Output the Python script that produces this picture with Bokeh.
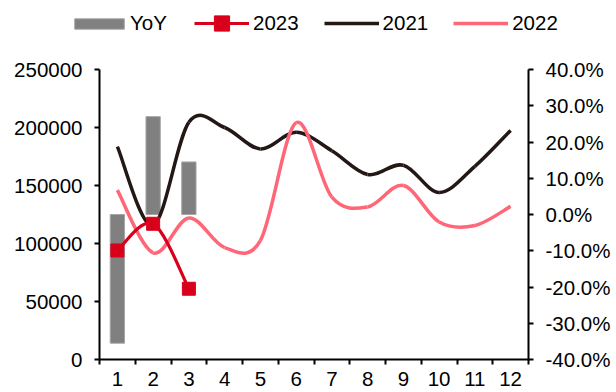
from bokeh.plotting import figure
from bokeh.models import (Range1d, LinearAxis, FixedTicker, NumeralTickFormatter,
                          Legend, LegendItem, ColumnDataSource)
from bokeh.layouts import column, row
from bokeh.embed import file_html
from bokeh.resources import INLINE

# ---- data ----
months = [1, 2, 3, 4, 5, 6, 7, 8, 9, 10, 11, 12]
month_labels = ["1", "2", "3", "4", "5", "6", "7", "8", "9", "10", "11", "12"]
yoy_months = [1, 2, 3]
yoy = [-0.355, 0.27, 0.145]
v2023 = [94000, 117000, 61000]
v2021 = [183500, 115500, 204500, 200000, 181500, 196000, 180000, 159500, 167500, 144000, 166500, 197500]
v2022 = [146000, 92000, 122000, 96500, 102500, 204000, 140000, 131500, 150000, 118500, 115500, 132000]
left_ticks = [0, 50000, 100000, 150000, 200000, 250000]
right_ticks = [-0.4, -0.3, -0.2, -0.1, 0.0, 0.1, 0.2, 0.3, 0.4]

FONT = "Liberation Sans"
FS = "20.5px"
C21, C22, C23, CBAR, CBAR_LINE = "#231815", "#FF6677", "#D9001B", "#808080", "#a6a6a6"
LEG_H = 45


def smooth(xs, ys):
    """Bezier control points (Catmull-Rom style) through the data points."""
    n = len(xs)
    d = dict(x0=[], y0=[], x1=[], y1=[], cx0=[], cy0=[], cx1=[], cy1=[])
    for i in range(n - 1):
        im = i - 1 if i > 0 else i
        ip = i + 2 if i + 2 < n else i + 1
        d["x0"].append(xs[i]); d["y0"].append(ys[i])
        d["x1"].append(xs[i + 1]); d["y1"].append(ys[i + 1])
        d["cx0"].append(xs[i] + (xs[i + 1] - xs[im]) / 6)
        d["cy0"].append(ys[i] + (ys[i + 1] - ys[im]) / 6)
        d["cx1"].append(xs[i + 1] - (xs[ip] - xs[i]) / 6)
        d["cy1"].append(ys[i + 1] - (ys[ip] - ys[i]) / 6)
    return ColumnDataSource(d)


def add_series(fig, visible=True):
    bars = fig.vbar(x=yoy_months, top=yoy, bottom=0, width=0.4, y_range_name="pct",
                    fill_color=CBAR, line_color=CBAR_LINE, line_width=1, visible=visible)
    kw = dict(x0="x0", y0="y0", x1="x1", y1="y1", cx0="cx0", cy0="cy0", cx1="cx1", cy1="cy1")
    l21 = fig.bezier(source=smooth(months, v2021), line_color=C21, line_width=3.5,
                     visible=visible, **kw)
    l22 = fig.bezier(source=smooth(months, v2022), line_color=C22, line_width=3.5,
                     visible=visible, **kw)
    l23 = fig.bezier(source=smooth(yoy_months, v2023), line_color=C23, line_width=3.2,
                     visible=visible, **kw)
    m23 = fig.scatter(x=yoy_months, y=v2023, marker="square", size=13,
                      fill_color=C23, line_color=C23, visible=visible)
    return bars, l21, l22, l23, m23


# ---------------- main chart ----------------
p = figure(width=616, height=392 - LEG_H, output_backend="svg", toolbar_location=None,
           x_range=Range1d(0.5, 12.5), y_range=Range1d(0, 250000),
           min_border_left=99, min_border_right=88, min_border_top=69 - LEG_H,
           min_border_bottom=33)
p.extra_y_ranges = {"pct": Range1d(-0.4, 0.4)}
p.outline_line_color = None
p.xgrid.grid_line_color = None
p.ygrid.grid_line_color = None

xa = p.xaxis[0]
xa.ticker = FixedTicker(ticks=months, minor_ticks=[m - 0.5 for m in months] + [12.5])
xa.major_label_overrides = {m: lab for m, lab in zip(months, month_labels)}
xa.major_tick_line_color = None
xa.major_tick_out = 5
xa.major_tick_in = 0
xa.minor_tick_out = 5
xa.minor_tick_in = 0
xa.minor_tick_line_color = "black"
xa.minor_tick_line_width = 2
xa.axis_line_width = 2
xa.axis_line_color = "black"
xa.major_label_text_font = FONT
xa.major_label_text_font_size = FS
xa.major_label_text_color = "black"
xa.major_label_standoff = 7

ya = p.yaxis[0]
ya.ticker = FixedTicker(ticks=left_ticks)
ya.formatter = NumeralTickFormatter(format="0")
ya.major_tick_out = 5
ya.major_tick_in = 0
ya.major_tick_line_width = 2
ya.minor_tick_line_color = None
ya.axis_line_width = 2
ya.axis_line_color = "black"
ya.major_label_text_font = FONT
ya.major_label_text_font_size = FS
ya.major_label_text_color = "black"
ya.major_label_standoff = 12

ra = LinearAxis(y_range_name="pct", ticker=FixedTicker(ticks=right_ticks),
                formatter=NumeralTickFormatter(format="0.0%"))
ra.major_tick_out = 5
ra.major_tick_in = 0
ra.major_tick_line_width = 2
ra.minor_tick_line_color = None
ra.axis_line_width = 2
ra.axis_line_color = "black"
ra.major_label_text_font = FONT
ra.major_label_text_font_size = FS
ra.major_label_text_color = "black"
ra.major_label_standoff = 12
p.add_layout(ra, "right")

add_series(p)

# ---------------- legend strip ----------------
lf = figure(width=616, height=LEG_H, output_backend="svg", toolbar_location=None,
            x_range=Range1d(0.5, 12.5), y_range=Range1d(0, 250000),
            x_axis_location=None, y_axis_location=None,
            min_border_left=0, min_border_right=0, min_border_top=0, min_border_bottom=0,
            outline_line_color=None)
lf.extra_y_ranges = {"pct": Range1d(-0.4, 0.4)}
lf.grid.visible = False
bars, l21, l22, l23, m23 = add_series(lf, visible=False)


def style(lg):
    lg.label_text_font = FONT
    lg.label_text_font_size = FS
    lg.label_text_color = "black"
    lg.padding = 0
    lg.margin = 0
    lg.border_line_color = None
    lg.background_fill_alpha = 0
    lg.inactive_fill_alpha = 0
    lg.orientation = "horizontal"


legA = Legend(items=[LegendItem(label="YoY", renderers=[bars])], location=(68, 10))
style(legA)
legA.glyph_width = 62
legA.glyph_height = 13
legA.label_standoff = 0
legB = Legend(items=[
    LegendItem(label="2023", renderers=[l23, m23]),
    LegendItem(label="2021", renderers=[l21]),
    LegendItem(label="2022", renderers=[l22]),
], location=(194, 3))
style(legB)
legB.glyph_width = 55
legB.glyph_height = 38
legB.label_standoff = 4
legB.spacing = 25
lf.add_layout(legA)
lf.add_layout(legB)

layout = column(row(lf), p, spacing=0)
open("out.html", "w").write(file_html(layout, INLINE))
